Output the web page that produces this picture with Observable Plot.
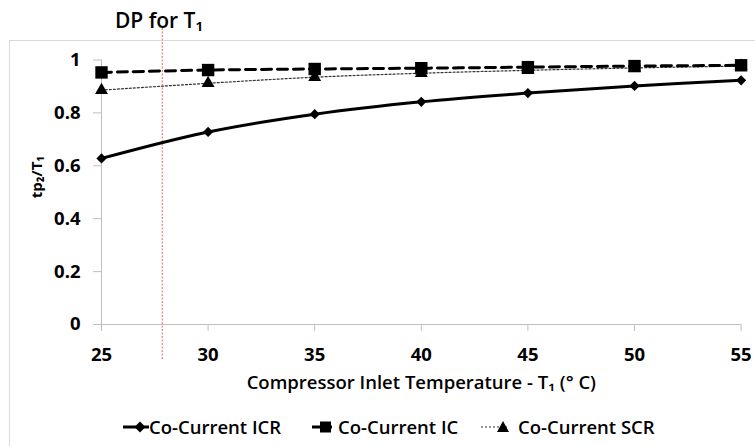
<!DOCTYPE html>
<html>
<head>
<meta charset="utf-8">
<script src="https://cdn.jsdelivr.net/npm/d3@7"></script>
<script src="https://cdn.jsdelivr.net/npm/@observablehq/plot@0.6"></script>
<style>
  html, body { margin: 0; padding: 0; background: #fff; }
  #wrap { position: relative; width: 755px; height: 446px; overflow: hidden; font-family: "Open Sans", sans-serif; }
  #border { position: absolute; left: 9px; top: 40px; width: 800px; height: 500px; border-left: 1px solid #d9d9d9; border-top: 1px solid #d9d9d9; }
  #chart { position: absolute; left: 0; top: 0; }
  #title { position: absolute; left: 0; top: 8px; width: 318px; text-align: center; font-size: 21px; line-height: 24px; font-weight: 600; color: #000; white-space: nowrap; }
  .leg { position: absolute; top: 417px; font-size: 18.5px; line-height: 20px; font-weight: 600; color: #000; white-space: nowrap; }
  .icon { position: absolute; top: 417px; }
</style>
</head>
<body>
<div id="wrap">
  <div id="border"></div>
  <div id="chart"></div>
  <div id="title"></div>
</div>
<script>
// ---- data ----
const temps = [25, 30, 35, 40, 45, 50, 55];
const icrValues = [0.628, 0.728, 0.795, 0.842, 0.875, 0.902, 0.923];
const icValues  = [0.953, 0.962, 0.966, 0.969, 0.973, 0.977, 0.980];
const scrValues = [0.886, 0.912, 0.935, 0.950, 0.961, 0.970, 0.977];
const seriesNames = ["Co-Current ICR", "Co-Current IC", "Co-Current SCR"];
const xTicks = [25, 30, 35, 40, 45, 50, 55];
const xTickLabels = ["25", "30", "35", "40", "45", "50", "55"];
const yTicks = [0, 0.2, 0.4, 0.6, 0.8, 1];
const yTickLabels = ["0", "0.2", "0.4", "0.6", "0.8", "1"];
const dpTemp = 27.85;
const titleText = "DP for T₁";
const xLabel = "Compressor Inlet Temperature - T₁ (° C)";
const yLabel = "tp₂/T₁";

const rows = (vals) => temps.map((t, i) => ({t, v: vals[i]}));
const icr = rows(icrValues), ic = rows(icValues), scr = rows(scrValues);

const FONT = "Open Sans, sans-serif";
const axisGray = "#bfbfbf";

const plot = Plot.plot({
  width: 755,
  height: 446,
  marginLeft: 101,
  marginRight: 14.4,
  marginTop: 59.5,
  marginBottom: 122,
  style: {fontFamily: FONT, background: "transparent", overflow: "visible"},
  x: {domain: [25, 55]},
  y: {domain: [0, 1]},
  marks: [
    Plot.ruleY([0], {stroke: axisGray, strokeWidth: 1}),
    Plot.ruleX([25], {stroke: axisGray, strokeWidth: 1}),
    Plot.axisY({
      ticks: yTicks,
      tickFormat: d => yTickLabels[yTicks.indexOf(d)],
      tickSize: 8, tickPadding: 13,
      stroke: axisGray, fill: "black",
      fontSize: 18.5, fontWeight: 700, label: null
    }),
    Plot.axisX({
      ticks: xTicks,
      tickFormat: d => xTickLabels[xTicks.indexOf(d)],
      tickSize: 7, tickPadding: 16,
      stroke: axisGray, fill: "black",
      fontSize: 18.5, fontWeight: 700, label: null
    }),
    Plot.ruleX([dpTemp], {stroke: "#f06060", strokeWidth: 1, strokeDasharray: "2,1.5", insetTop: -31.5, insetBottom: -36}),
    Plot.line(scr, {x: "t", y: "v", curve: "catmull-rom", stroke: "#333", strokeWidth: 1.2, strokeDasharray: "2,2"}),
    Plot.line(icr, {x: "t", y: "v", curve: "catmull-rom", stroke: "black", strokeWidth: 3}),
    Plot.line(ic, {x: "t", y: "v", curve: "catmull-rom", stroke: "black", strokeWidth: 3, strokeDasharray: "10,6"}),
    Plot.dot(icr, {x: "t", y: "v", symbol: "diamond2", r: 4.6, fill: "black", stroke: "none"}),
    Plot.dot(ic, {x: "t", y: "v", symbol: "square", r: 7, fill: "black", stroke: "none"}),
    Plot.dot(scr, {x: "t", y: "v", symbol: "triangle", r: 4.8, fill: "black", stroke: "none"}),
    Plot.text([xLabel], {text: d => d, frameAnchor: "bottom", dy: 59, fontSize: 18.5, fontWeight: 600, fill: "black", lineAnchor: "middle"}),
    Plot.text([yLabel], {text: d => d, frameAnchor: "left", dx: -64, dy: 6, rotate: -90, fontSize: 15, fontWeight: 700, fill: "black", lineAnchor: "middle"})
  ]
});
document.getElementById("chart").appendChild(plot);
document.getElementById("title").textContent = titleText;

// ---- legend ----
const wrap = document.getElementById("wrap");
const ns = "http://www.w3.org/2000/svg";
function icon(left, width, draw) {
  const s = document.createElementNS(ns, "svg");
  s.setAttribute("width", width);
  s.setAttribute("height", 20);
  s.setAttribute("class", "icon");
  s.style.left = left + "px";
  s.innerHTML = draw;
  wrap.appendChild(s);
}
function label(left, text) {
  const d = document.createElement("div");
  d.className = "leg";
  d.style.left = left + "px";
  d.textContent = text;
  wrap.appendChild(d);
}
// ICR: solid line with diamond
icon(123, 26, '<line x1="0" y1="10" x2="26" y2="10" stroke="black" stroke-width="3"/><path d="M17,4.5 L22.5,10 L17,15.5 L11.5,10 Z" fill="black"/>');
label(149, seriesNames[0]);
// IC: dashed line with square
icon(312, 22, '<line x1="0" y1="10" x2="20" y2="10" stroke="black" stroke-width="3"/><rect x="8" y="4.5" width="11" height="11" fill="black"/>');
label(338, seriesNames[1]);
// SCR: dotted line with triangle
icon(481, 30, '<line x1="0" y1="10" x2="28" y2="10" stroke="#333" stroke-width="1.2" stroke-dasharray="2,2"/><path d="M22,4 L28,15 L16,15 Z" fill="black"/>');
label(518, seriesNames[2]);
</script>
</body>
</html>
